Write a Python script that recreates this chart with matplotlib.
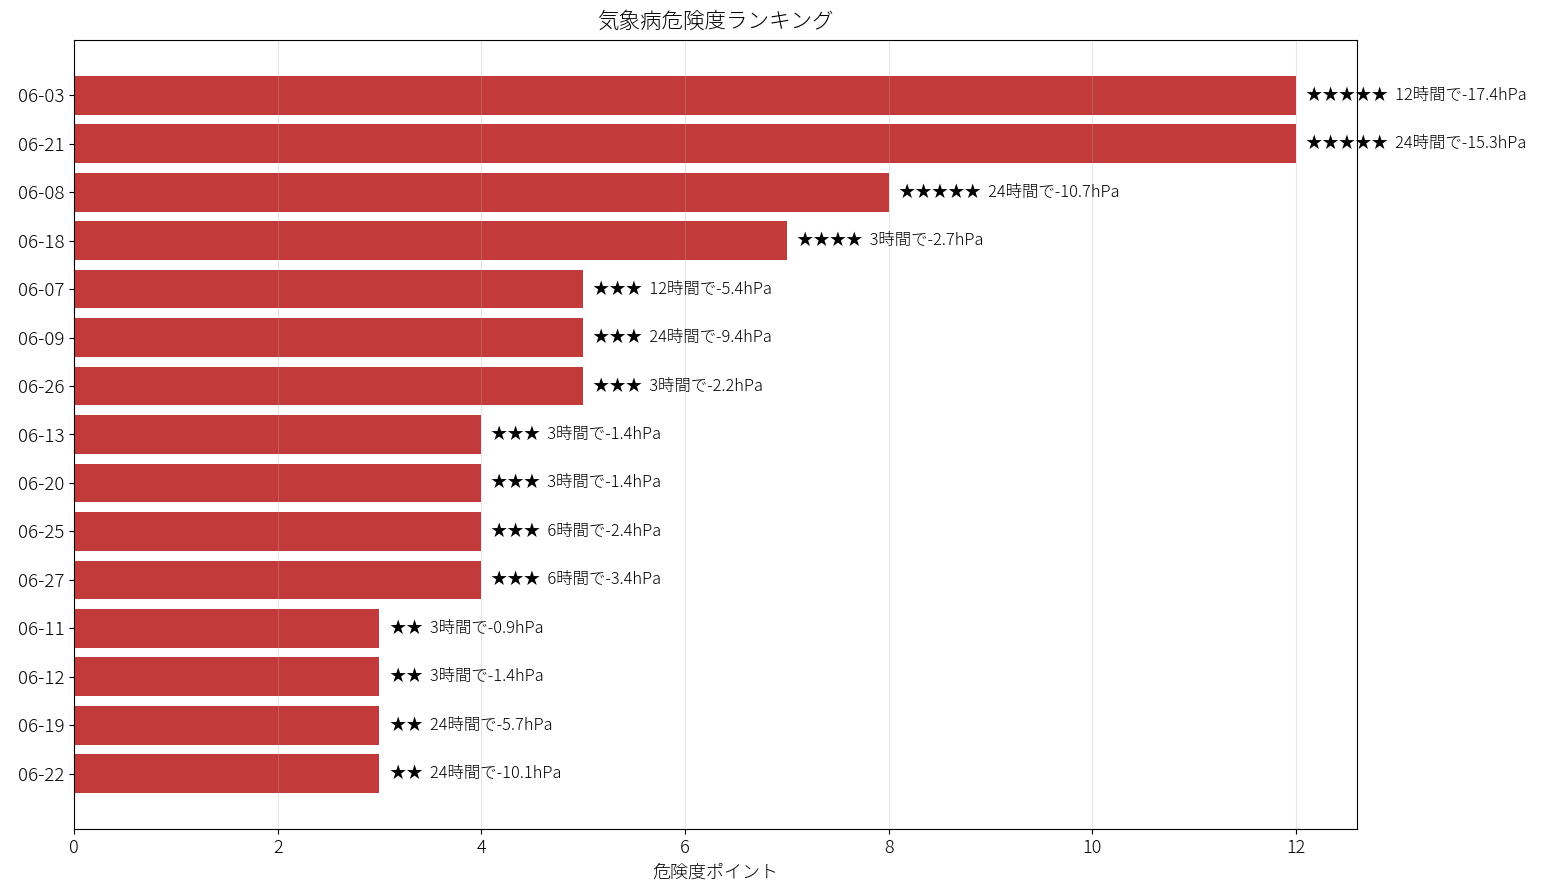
import matplotlib
matplotlib.use("Agg")
import matplotlib.pyplot as plt

plt.rcParams['font.family'] = ['Noto Sans CJK JP', 'DejaVu Sans']
plt.rcParams['font.weight'] = 'light'
plt.rcParams['axes.titleweight'] = 'light'
plt.rcParams['axes.labelweight'] = 'light'

dates = ["06-03", "06-21", "06-08", "06-18", "06-07", "06-09", "06-26",
         "06-13", "06-20", "06-25", "06-27", "06-11", "06-12", "06-19", "06-22"]
points = [12, 12, 8, 7, 5, 5, 5, 4, 4, 4, 4, 3, 3, 3, 3]
stars = [5, 5, 5, 4, 3, 3, 3, 3, 3, 3, 3, 2, 2, 2, 2]
notes = ["12時間で-17.4hPa", "24時間で-15.3hPa", "24時間で-10.7hPa", "3時間で-2.7hPa",
         "12時間で-5.4hPa", "24時間で-9.4hPa", "3時間で-2.2hPa", "3時間で-1.4hPa",
         "3時間で-1.4hPa", "6時間で-2.4hPa", "6時間で-3.4hPa", "3時間で-0.9hPa",
         "3時間で-1.4hPa", "24時間で-5.7hPa", "24時間で-10.1hPa"]

fig = plt.figure(figsize=(15.44, 8.96), dpi=100)
ax = fig.add_axes([74/1544, 1 - 829/896, (1357-74)/1544, (829-40)/896])

y = list(range(len(dates)))
ax.barh(y, points, height=0.8, color='#c23b3a')
ax.set_yticks(y)
ax.set_yticklabels(dates, fontsize=13.5, fontweight='light')
ax.invert_yaxis()
ax.tick_params(axis='x', labelsize=13)
ax.grid(axis='x', alpha=0.3)

for yi, p, s, n in zip(y, points, stars, notes):
    ax.text(p + 0.1, yi, "★" * s + "  " + n, va='center', ha='left', fontsize=11.8, fontweight='light')

ax.set_xlabel("危険度ポイント", fontsize=13, labelpad=5, fontweight='light')
ax.set_title("気象病危険度ランキング", fontsize=15.5, pad=9, fontweight='light')

fig.savefig("out.png", dpi=100)
